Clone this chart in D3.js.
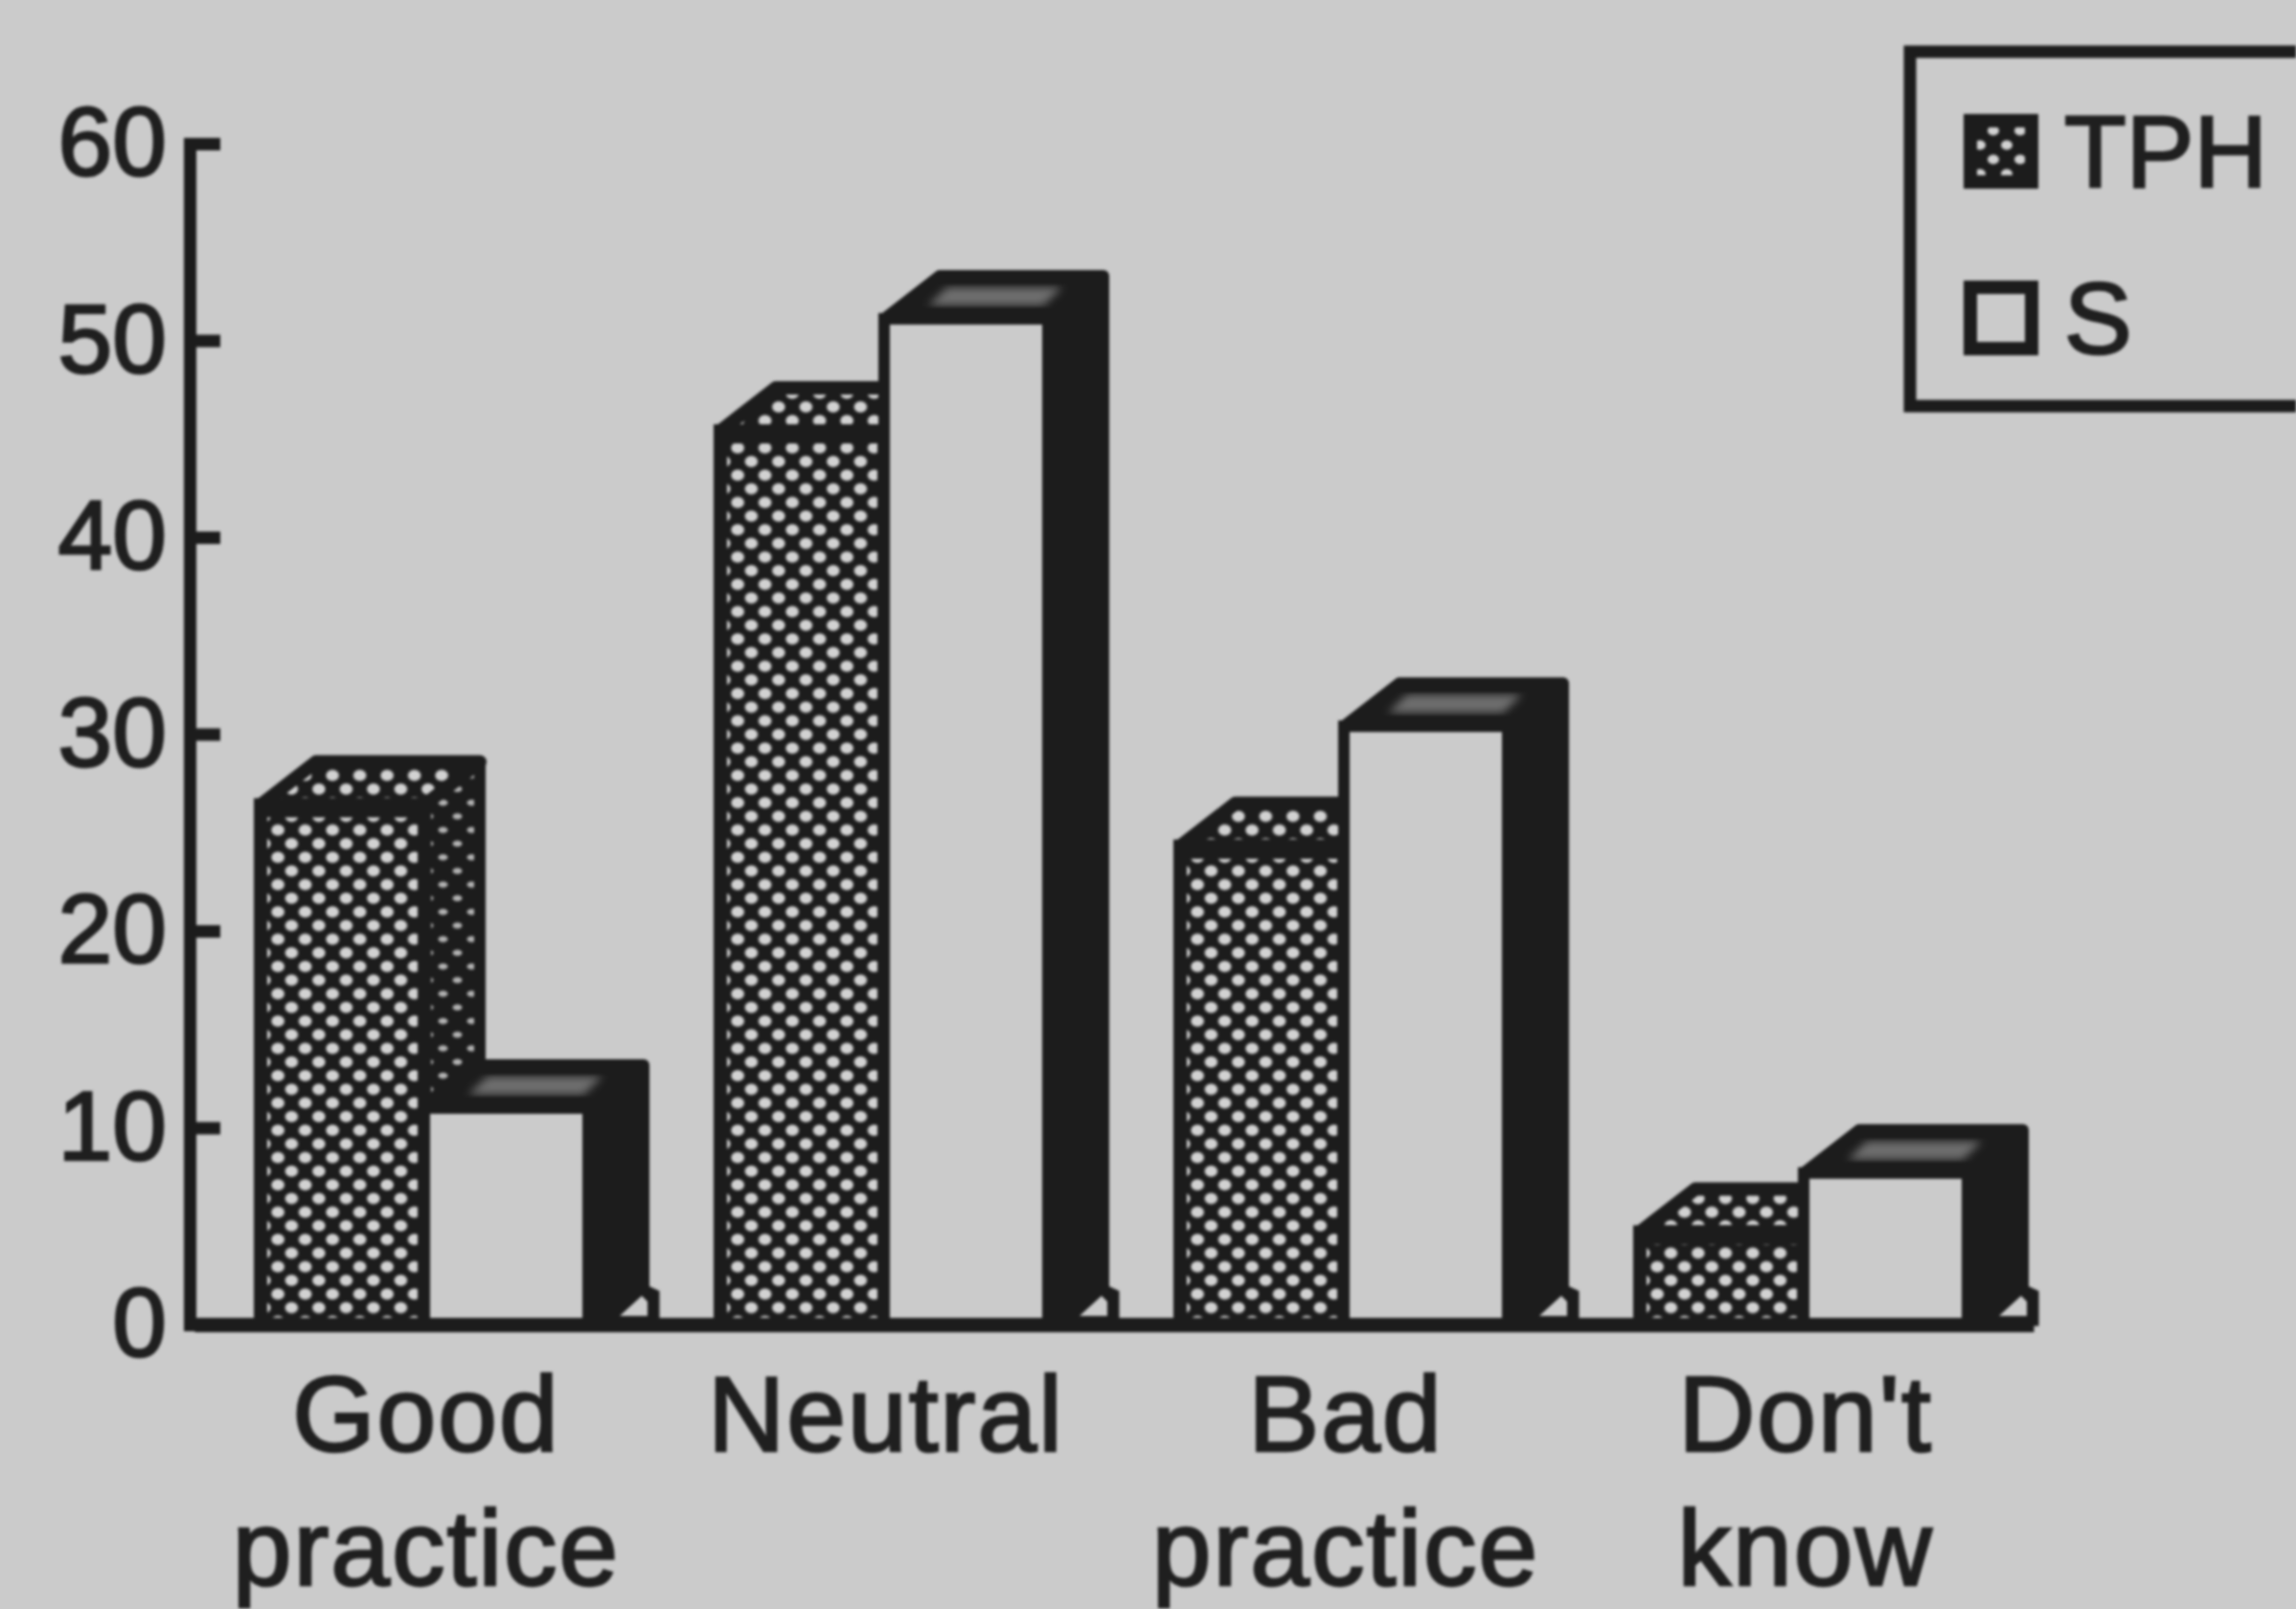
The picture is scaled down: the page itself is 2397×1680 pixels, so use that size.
<!DOCTYPE html>
<html>
<head>
<meta charset="utf-8">
<script src="https://cdn.jsdelivr.net/npm/d3@7"></script>
<style>
  html, body { margin: 0; background: #cbcbcb; }
  #chart { width: 2397px; height: 1680px; overflow: hidden; }
  svg { display: block; filter: blur(1.6px); }
  text { font-family: "Liberation Sans", Arial, sans-serif; fill: #1f1f1f; stroke: #1f1f1f; stroke-width: 2.6px; }
</style>
</head>
<body>
<div id="chart"></div>
<script>
const categories = ["Good practice", "Neutral", "Bad practice", "Don't know"];
const seriesNames = ["TPH", "S"];
const tphValues = [26.4, 45.4, 24.3, 4.7];
const sValues = [11, 51.1, 30.4, 7.7];
const yTicks = [0, 10, 20, 30, 40, 50, 60];

const dark = "#1c1c1c";
const paper = "#cbcbcb";
const dot = "#d2d2d2";

const svg = d3.select("#chart")
  .append("svg")
  .attr("width", 2397)
  .attr("height", 1680);

const x = d3.scaleBand()
  .domain(categories)
  .range([203, 2123])
  .paddingInner(138 / 480)
  .paddingOuter(69 / 480);

const xSeries = d3.scaleBand()
  .domain(seriesNames)
  .range([0, x.bandwidth()]);

const y = d3.scaleLinear().domain([0, 60]).range([1383, 150]);

const depthX = 58;
const depthY = 45;
const base = y(0);
const defs = svg.append("defs");

defs.append("filter")
  .attr("id", "smudge")
  .append("feGaussianBlur")
  .attr("stdDeviation", 4);

function dotPattern(id, px, py, w, h, rx, ry, fill) {
  const p = defs.append("pattern")
    .attr("id", id)
    .attr("patternUnits", "userSpaceOnUse")
    .attr("x", px)
    .attr("y", py)
    .attr("width", w)
    .attr("height", h);
  p.append("rect").attr("width", w).attr("height", h).attr("fill", dark);
  p.append("ellipse").attr("cx", w / 4).attr("cy", h / 4).attr("rx", rx).attr("ry", ry).attr("fill", fill);
  p.append("ellipse").attr("cx", (3 * w) / 4).attr("cy", (3 * h) / 4).attr("rx", rx).attr("ry", ry).attr("fill", fill);
}

categories.forEach((c, i) => {
  dotPattern(`front${i}`, x(c) + 11, 1344, 28.5, 28.5, 6.8, 6, dot);
  dotPattern(`side${i}`, x(c) + 183, 1344, 30, 28.5, 5, 3.2, "#b4b4b4");
});
dotPattern("legendDots", 2071, 136, 28, 30, 6, 5, dot);

const poly = (pts) => pts.map((p) => p.join(",")).join(" ");

const rows = categories.map((c, i) => ({ c, i, tph: tphValues[i], s: sValues[i] }));

const groups = svg.selectAll(".group")
  .data(rows)
  .join("g")
  .attr("class", "group");

// TPH bars
groups.each(function (d) {
  const g = d3.select(this);
  const x0 = x(d.c) + xSeries("TPH");
  const x1 = x0 + xSeries.bandwidth();
  const top = y(d.tph);

  g.append("polygon")
    .attr("points", poly([[x1, top], [x1 + depthX, top - depthY], [x1 + depthX, base - depthY], [x1, base]]))
    .attr("fill", `url(#side${d.i})`)
    .attr("stroke", dark)
    .attr("stroke-width", 12)
    .attr("stroke-linejoin", "round");

  g.append("polygon")
    .attr("points", poly([[x0, top], [x0 + depthX, top - depthY], [x1 + depthX, top - depthY], [x1, top]]))
    .attr("fill", `url(#front${d.i})`)
    .attr("stroke", dark)
    .attr("stroke-width", 14)
    .attr("stroke-linejoin", "round");

  g.append("rect")
    .attr("x", x0)
    .attr("y", top)
    .attr("width", x1 - x0)
    .attr("height", base - top)
    .attr("fill", `url(#front${d.i})`)
    .attr("stroke", dark)
    .attr("stroke-width", 14);

  // thick ridge between top face and front face
  g.append("line")
    .attr("x1", x0)
    .attr("x2", x1)
    .attr("y1", top + 3)
    .attr("y2", top + 3)
    .attr("stroke", dark)
    .attr("stroke-width", 20);
});

// S bars
groups.each(function (d) {
  const g = d3.select(this);
  const x0 = x(d.c) + xSeries("S");
  const x1 = x0 + xSeries.bandwidth();
  const top = y(d.s);

  g.append("polygon")
    .attr("points", poly([[x0, top], [x0 + depthX, top - depthY], [x1 + depthX, top - depthY], [x1 + depthX, base], [x1, base], [x1, top]]))
    .attr("fill", dark)
    .attr("stroke", dark)
    .attr("stroke-width", 12)
    .attr("stroke-linejoin", "round");

  g.append("polygon")
    .attr("points", poly([[x0 + 46, top - 14], [x0 + 66, top - 33], [x0 + 186, top - 33], [x0 + 166, top - 14]]))
    .attr("fill", "#6e6e6e")
    .attr("filter", "url(#smudge)");

  g.append("rect")
    .attr("x", x0)
    .attr("y", top)
    .attr("width", x1 - x0)
    .attr("height", base - top)
    .attr("fill", paper)
    .attr("stroke", dark)
    .attr("stroke-width", 12);

  // small floor wedge at the foot of the bar
  g.append("polygon")
    .attr("points", poly([[x1 + 20, base], [x1 + 56, base - 42], [x1 + 73, base - 34], [x1 + 73, base]]))
    .attr("fill", dark)
    .attr("stroke", dark)
    .attr("stroke-width", 3);

  g.append("polygon")
    .attr("points", poly([[x1 + 33, base - 9], [x1 + 56, base - 30], [x1 + 62, base - 24], [x1 + 62, base - 9]]))
    .attr("fill", paper);
});

// Y axis
const yAxis = svg.append("g")
  .attr("transform", "translate(198,0)")
  .call(d3.axisLeft(y).tickValues(yTicks).tickSizeInner(-32).tickSizeOuter(0).tickPadding(24));
yAxis.select(".domain").attr("stroke", dark).attr("stroke-width", 13).attr("stroke-linecap", "square");
yAxis.selectAll(".tick line").attr("stroke", dark).attr("stroke-width", 13);
yAxis.selectAll("text")
  .attr("font-size", 102)
  .attr("font-family", null);

// X axis
const xAxis = svg.append("g")
  .attr("transform", `translate(0,${base})`)
  .call(d3.axisBottom(x).tickSize(0).tickFormat(""));
xAxis.select(".domain").attr("stroke", dark).attr("stroke-width", 15);

xAxis.selectAll(".tick text")
  .attr("y", 132)
  .attr("dy", null)
  .attr("font-size", 111)
  .attr("letter-spacing", 2)
  .each(function (d) {
    const t = d3.select(this);
    d.split(" ").forEach((word, i) => {
      t.append("tspan")
        .attr("x", 2)
        .attr("dy", i === 0 ? 0 : 140)
        .text(word);
    });
  });

// Legend
svg.append("rect")
  .attr("x", 1994)
  .attr("y", 54)
  .attr("width", 440)
  .attr("height", 370)
  .attr("fill", "none")
  .attr("stroke", dark)
  .attr("stroke-width", 13);

const legendY = d3.scalePoint().domain(seriesNames).range([158, 332]);

const legend = svg.selectAll(".legend")
  .data(seriesNames)
  .join("g")
  .attr("class", "legend")
  .attr("transform", (d) => `translate(2089,${legendY(d)})`);

legend.append("rect")
  .attr("x", -32)
  .attr("y", -32)
  .attr("width", 64)
  .attr("height", 64)
  .attr("fill", (d) => (d === "TPH" ? "url(#legendDots)" : paper))
  .attr("stroke", dark)
  .attr("stroke-width", 14);

legend.append("text")
  .attr("x", 66)
  .attr("y", 37)
  .attr("font-size", 106)
  .text((d) => d);
</script>
</body>
</html>
